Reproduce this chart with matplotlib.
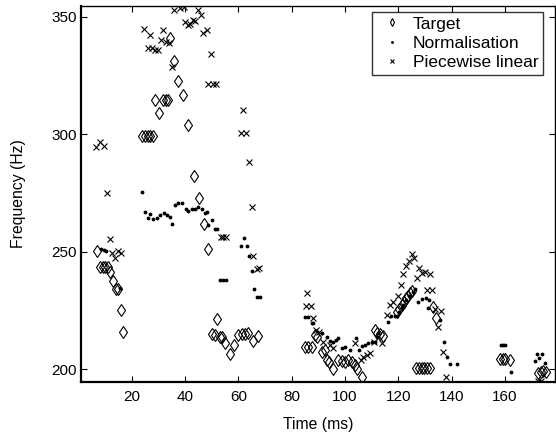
import numpy as np
import matplotlib
matplotlib.use("Agg")
import matplotlib.pyplot as plt

plt.rcParams['font.family'] = ['Liberation Sans', 'DejaVu Sans']

# Target (diamonds)
target_t = [6.9, 8.1, 9.1, 10.0, 11.0, 11.9, 13.1, 14.1, 15.0, 16.0, 16.8,
            24.0, 25.0, 26.0, 27.0, 28.0, 28.7, 30.4, 31.9, 32.9, 33.7, 34.5, 35.9, 37.3,
            39.4, 41.2, 43.4, 45.3, 47.3, 48.7, 50.2, 51.1, 51.9, 53.1, 53.9, 55.0, 56.9,
            58.5, 60.0, 61.3, 62.5, 63.8, 65.4, 67.5,
            85.0, 86.3, 87.5, 88.8, 89.4, 91.3, 92.5, 93.2, 94.2, 95.4, 97.5, 98.8, 100.0,
            101.3, 102.5, 103.8, 104.4, 106.3,
            111.3, 112.2, 113.2, 114.4, 119.7, 120.4, 121.3, 122.2, 122.9, 123.8, 124.4,
            125.1, 126.8, 127.8, 128.8, 129.8, 130.8, 131.8, 132.9, 134.2,
            158.2, 159.2, 160.1, 162.0, 172.6, 173.5, 174.4, 175.3]
target_f = [250.3, 243.4, 243.4, 243.4, 243.4, 241.5, 237.7, 234.2, 234.2, 225.3, 216.0,
            299.2, 299.2, 299.2, 299.2, 299.2, 314.7, 309.0, 314.7, 314.7, 314.7, 341.0, 331.1, 322.6,
            316.6, 303.8, 282.2, 272.7, 262.0, 251.0, 215.0, 214.6, 221.4, 213.9, 213.9, 211.4, 206.6,
            210.4, 214.6, 215.0, 215.0, 215.4, 212.2, 214.4,
            209.7, 209.7, 209.7, 214.6, 213.7, 207.6, 208.3, 204.0, 203.3, 200.1, 204.0, 203.8, 203.3,
            204.0, 203.3, 201.9, 200.1, 197.0,
            216.8, 215.4, 215.1, 214.2, 224.5, 225.6, 227.4, 228.8, 230.2, 231.2, 232.4,
            233.5, 200.5, 200.5, 200.5, 200.5, 200.5, 200.5, 226.4, 221.7,
            204.3, 204.3, 204.3, 204.0, 198.4, 199.1, 199.5, 199.1]

# Normalisation (dots)
norm_t = [8.4, 9.6, 10.4, 15.6,
          24.0, 25.0, 26.2, 26.9, 28.1, 29.4, 30.6, 32.1, 33.4, 34.4, 35.0, 36.2, 37.5, 38.8,
          40.2, 41.2, 42.5, 43.8, 45.0, 46.3, 47.5, 48.2, 48.7, 50.0, 51.1, 52.0,
          53.1, 54.4, 55.3, 60.9, 62.0, 63.2, 64.2, 65.0, 66.0, 67.1, 68.1,
          85.0, 86.3, 87.5, 88.1, 91.3, 93.2, 94.4, 95.6, 96.5, 97.5, 98.8, 100.0, 101.9,
          104.2, 105.4, 106.3, 107.5, 108.8, 110.0, 111.3, 112.0, 112.5,
          116.3, 117.3, 118.8, 119.6, 120.4, 121.3, 121.9, 122.9, 124.2, 125.4, 126.3,
          127.3, 128.8, 130.3, 131.6, 131.3, 135.8, 137.3, 138.2, 139.3, 142.1,
          158.5, 159.2, 160.0, 162.2, 171.3, 172.2, 172.9, 173.8, 175.0]
norm_f = [251.0, 250.7, 250.4, 234.5,
          275.5, 267.0, 264.5, 266.2, 264.0, 264.4, 265.8, 266.6, 265.6, 265.0, 261.8, 269.9, 270.7, 270.6,
          268.0, 267.4, 268.0, 268.4, 269.0, 268.4, 266.6, 266.8, 261.4, 263.5, 259.5, 259.5,
          238.0, 238.0, 238.0, 252.6, 255.7, 252.6, 248.4, 242.0, 234.0, 230.9, 230.9,
          222.4, 222.2, 219.6, 219.6, 215.4, 213.7, 212.2, 211.8, 212.5, 213.2, 209.0, 209.7, 208.3,
          213.2, 208.3, 210.0, 210.4, 211.1, 211.8, 211.8, 214.0, 215.4,
          220.3, 222.7, 222.7, 222.7, 224.5, 226.0, 227.4, 229.5, 231.2, 233.0, 234.0,
          228.8, 229.8, 230.2, 229.5, 226.0, 221.0, 211.8, 205.5, 202.2, 202.2,
          210.4, 210.4, 210.4, 199.1, 203.7, 206.6, 204.7, 206.6, 202.9]

# Piecewise linear (crosses)
pwl_t = [6.6, 8.1, 9.7, 10.8, 11.9, 12.7, 13.7, 15.0, 16.0,
         24.7, 26.0, 26.9, 27.7, 28.7, 30.0, 31.0, 31.9, 32.9, 34.0, 35.0, 35.9, 38.0, 39.7,
         40.0, 41.2, 41.9, 43.1, 43.8, 44.8, 45.9, 46.9, 48.1, 49.8, 48.7, 50.5, 51.7,
         53.5, 54.4, 55.3, 60.9, 61.9, 62.9, 64.1, 65.0, 65.6, 67.1, 67.9,
         85.9, 85.4, 87.2, 87.9, 89.2, 90.4, 91.9, 94.4, 95.6, 103.8, 105.9, 106.9, 108.2,
         109.4, 111.0, 113.8, 115.7, 116.9, 118.2, 120.0, 121.0, 121.9, 122.9, 123.9, 125.0,
         126.0, 126.9, 127.9, 128.9, 130.1, 132.0, 130.7, 132.8, 133.8, 135.9, 135.0, 136.8,
         138.0, 172.6, 173.6]
pwl_f = [294.6, 296.7, 294.9, 275.0, 255.3, 249.6, 247.2, 250.5, 249.6,
         344.9, 336.8, 342.0, 336.8, 335.7, 336.0, 340.2, 344.2, 339.2, 338.8, 328.6, 352.7, 353.8, 354.0,
         347.7, 346.3, 347.0, 348.7, 348.1, 352.6, 350.5, 343.2, 344.2, 334.0, 321.5, 321.5, 321.5,
         256.4, 256.4, 256.4, 300.7, 310.5, 300.7, 288.2, 268.9, 248.3, 242.7, 243.0,
         232.6, 227.1, 227.1, 221.7, 216.8, 216.1, 211.8, 210.4, 209.0, 211.1, 204.0, 205.2, 206.2,
         207.1, 211.8, 211.1, 223.1, 227.6, 228.5, 231.2, 236.0, 240.6, 243.8, 246.0, 249.2,
         247.2, 238.8, 243.0, 241.0, 241.6, 240.5, 233.8, 233.8, 225.8, 224.9, 218.0, 207.5,
         196.8, 195.2, 195.2]

xticks = [20, 40, 60, 80, 100, 120, 140, 160]
yticks = [200, 250, 300, 350]

fig = plt.figure(figsize=(5.56, 4.37), dpi=100)
ax = fig.add_axes([81 / 556, 1 - 381.7 / 437, 474 / 556, 375.7 / 437])

ax.plot(target_t, target_f, linestyle='none', marker='d', ms=6.5, mfc='none',
        mec='k', mew=0.8, label='Target')
ax.plot(norm_t, norm_f, linestyle='none', marker='.', ms=3.5, color='k',
        label='Normalisation')
ax.plot(pwl_t, pwl_f, linestyle='none', marker='x', ms=4, color='k', mew=0.8,
        label='Piecewise linear')

ax.set_xlim(1, 178.8)
ax.set_ylim(194.8, 354.5)
ax.set_xticks(xticks)
ax.set_yticks(yticks)
ax.tick_params(direction='in', top=True, right=True, length=4, labelsize=11)
ax.tick_params(axis='x', pad=6)
ax.tick_params(axis='y', pad=3)
for s in ax.spines.values():
    s.set_linewidth(1.0)
ax.spines['left'].set_linewidth(1.6)
ax.spines['bottom'].set_linewidth(1.6)

ax.set_xlabel('Time (ms)', fontsize=11.3)
ax.set_ylabel('Frequency (Hz)', fontsize=11.3)
ax.xaxis.set_label_coords(0.5, -0.094)
ax.yaxis.set_label_coords(-0.115, 0.5)

leg = ax.legend(loc='upper right', bbox_to_anchor=(0.9747, 0.984), borderaxespad=0,
                fontsize=12.5, frameon=True, fancybox=False, edgecolor='k',
                borderpad=0.25, labelspacing=0.25, handlelength=1.8,
                handletextpad=0.3, markerscale=0.6)
leg.get_frame().set_linewidth(1.0)

fig.savefig('out.png', dpi=100)
